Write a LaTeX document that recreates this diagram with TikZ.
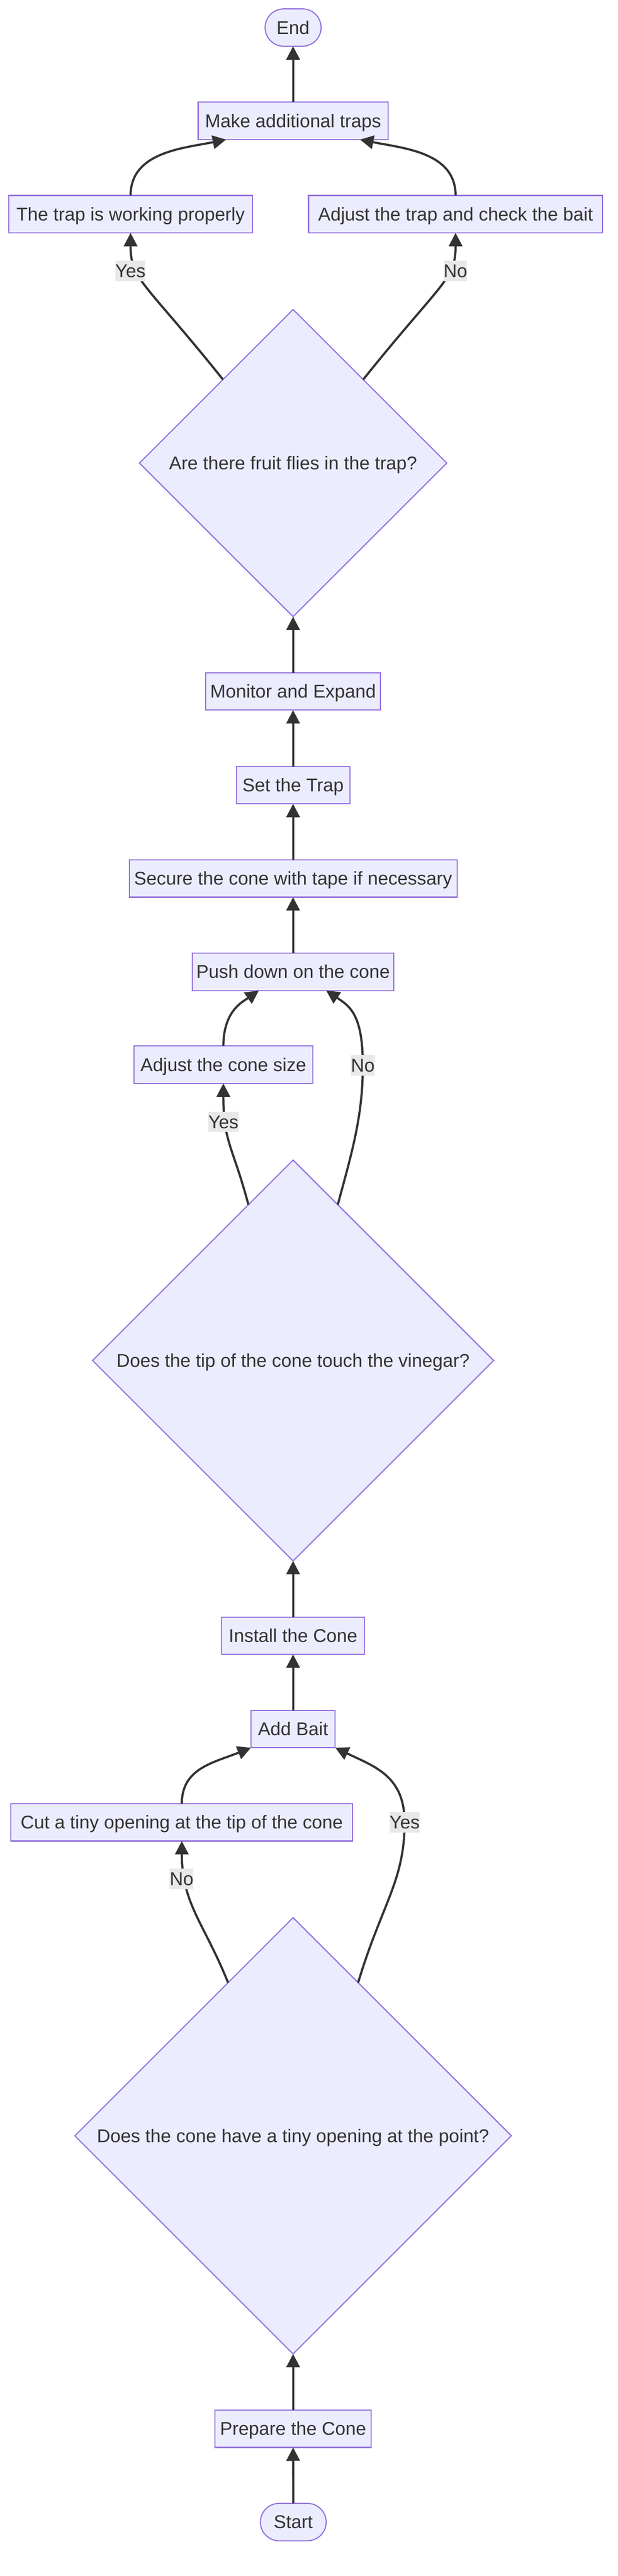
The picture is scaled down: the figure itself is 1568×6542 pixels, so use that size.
\documentclass[tikz,border=0pt]{standalone}
\usepackage{xcolor}
\usepackage{fontspec}
\setmainfont{Liberation Sans}
\usepackage{tikz}
\usetikzlibrary{shapes.geometric,arrows.meta}
\definecolor{NodeFill}{HTML}{ECECFF}
\definecolor{NodeLine}{HTML}{9370DB}
\definecolor{Ink}{HTML}{333333}
\definecolor{LabelBg}{HTML}{E8E8E8}

\begin{document}
\begin{tikzpicture}[x=1pt, y=-1pt,%
  box/.style={draw=NodeLine, fill=NodeFill, line width=2.8pt, minimum height=95pt, inner sep=0pt, outer sep=0pt, text=Ink, font=\fontsize{47}{56}\selectfont, text height=42.3pt, text depth=9.4pt},%
  pill/.style={box, rounded corners=47.5pt},%
  decision/.style={box, diamond, aspect=1},%
  flow/.style={draw=Ink, line width=5.5pt, -{Triangle[length=34pt, width=34pt]}},%
  lbl/.style={fill=LabelBg, text=Ink, inner sep=0pt, font=\fontsize{47}{56}\selectfont, text height=42.3pt, text depth=9.4pt}]%
\useasboundingbox (0,0) rectangle (1568,6542);%
\node[pill, minimum width=142pt] (end) at (744,70) {End};%
\node[box, minimum width=482pt] (make) at (744,307) {Make additional traps};%
\node[box, minimum width=619pt] (trap) at (331.5,544) {The trap is working properly};%
\node[box, minimum width=747pt] (fix) at (1156.5,544) {Adjust the trap and check the bait};%
\node[decision, minimum width=780pt, minimum height=780pt] (flies) at (744,1176) {Are there fruit flies in the trap?};%
\node[box, minimum width=444pt] (monitor) at (744,1756) {Monitor and Expand};%
\node[box, minimum width=288pt] (trapset) at (744,1994) {Set the Trap};%
\node[box, minimum width=832pt] (secure) at (744,2231) {Secure the cone with tape if necessary};%
\node[box, minimum width=512pt] (push) at (744,2468) {Push down on the cone};%
\node[box, minimum width=454pt] (resize) at (567,2704) {Adjust the cone size};%
\node[decision, minimum width=1018pt, minimum height=1018pt] (touch) at (744,3455) {Does the tip of the cone touch the vinegar?};%
\node[box, minimum width=362pt] (install) at (744,4154) {Install the Cone};%
\node[box, minimum width=214pt] (bait) at (744,4391) {Add Bait};%
\node[box, minimum width=867pt] (cut) at (461.5,4628) {Cut a tiny opening at the tip of the cone};%
\node[decision, minimum width=1108pt, minimum height=1108pt] (opening) at (744,5424) {Does the cone have a tiny opening at the point?};%
\node[box, minimum width=396pt] (prepare) at (744,6168) {Prepare the Cone};%
\node[pill, minimum width=167pt] (start) at (744.5,6405) {Start};%
\coordinate (yesA) at (331,688);%
\coordinate (noA) at (1156,688);%
\coordinate (yesB) at (567,2849);%
\coordinate (noB) at (921,2706);%
\coordinate (yesC) at (1027,4628);%
\coordinate (noC) at (461,4772);%
\draw[flow] (start.north) -- (prepare.south);%
\draw[flow] (prepare.north) -- (opening.south);%
\draw[flow] (opening.113) .. controls +(-60,-150) and +(0,160) .. (cut.south);%
\draw[flow] (opening.67) .. controls +(60,-200) and +(0,150) .. (yesC) .. controls +(0,-118) and +(100,48) .. (bait.south east);%
\draw[flow] (cut.north) .. controls +(0,-90) and +(-95,38) .. (bait.south west);%
\draw[flow] (bait.north) -- (install.south);%
\draw[flow] (install.north) -- (touch.south);%
\draw[flow] (touch.106) .. controls +(-40,-150) and +(0,150) .. (resize.south);%
\draw[flow] (touch.74) .. controls +(35,-130) and +(0,130) .. (noB) .. controls +(0,-130) and +(60,40) .. ([xshift=84pt]push.south);%
\draw[flow] (resize.north) .. controls +(0,-90) and +(-40,28) .. ([xshift=-87pt]push.south);%
\draw[flow] (push.north) -- (secure.south);%
\draw[flow] (secure.north) -- (trapset.south);%
\draw[flow] (trapset.north) -- (monitor.south);%
\draw[flow] (monitor.north) -- (flies.south);%
\draw[flow] (flies.130) .. controls +(-200,-250) and +(0,120) .. (trap.south);%
\draw[flow] (flies.50) .. controls +(200,-250) and +(0,120) .. (fix.south);%
\draw[flow] (trap.north) .. controls +(0,-110) and +(-110,22) .. ([xshift=-170pt]make.south);%
\draw[flow] (fix.north) .. controls +(0,-110) and +(110,22) .. ([xshift=170pt]make.south);%
\draw[flow] (make.north) -- (end.south);%
\node[lbl] (yesAtxt) at (yesA) {Yes};%
\node[lbl] (noAtxt) at (noA) {No};%
\node[lbl] (yesBtxt) at (yesB) {Yes};%
\node[lbl] (noBtxt) at (noB) {No};%
\node[lbl] (yesCtxt) at (yesC) {Yes};%
\node[lbl] (noCtxt) at (noC) {No};%
\end{tikzpicture}
\end{document}
